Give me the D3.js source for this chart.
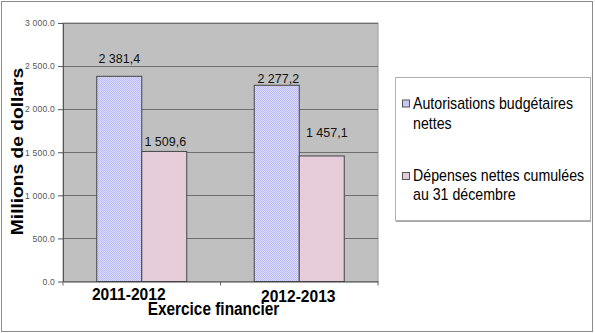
<!DOCTYPE html>
<html>
<head>
<meta charset="utf-8">
<script src="https://cdn.jsdelivr.net/npm/d3@7"></script>
<style>
  html, body { margin: 0; padding: 0; background: #fff; }
  svg { display: block; font-family: "Liberation Sans", Arial, sans-serif; }
</style>
</head>
<body>
<svg id="chart" width="595" height="333"></svg>
<script>
// Exercices financiers et séries
const categories = ["2011-2012", "2012-2013"];
const autorisations = [2381.4, 2277.2];
const depenses = [1509.6, 1457.1];
const yTicks = [0, 500, 1000, 1500, 2000, 2500, 3000];
const legendLines = [["Autorisations budgétaires", "nettes"], ["Dépenses nettes cumulées", "au 31 décembre"]];

const svg = d3.select("#chart");
const font = "'Liberation Sans', Arial, sans-serif";

// Palette
const fills = ["url(#dither)", "#e6cbd9"];
const legendFills = ["#c8c8f6", "#e6cbd9"];

const defs = svg.append("defs");
const pat = defs.append("pattern").attr("id", "dither")
  .attr("patternUnits", "userSpaceOnUse").attr("width", 2).attr("height", 2);
pat.append("rect").attr("width", 2).attr("height", 2).attr("fill", "#dadaff");
pat.append("rect").attr("x", 0).attr("y", 0).attr("width", 1).attr("height", 1).attr("fill", "#bdbdf4");
pat.append("rect").attr("x", 1).attr("y", 1).attr("width", 1).attr("height", 1).attr("fill", "#bdbdf4");

// Outer frame
svg.append("rect").attr("x", 1.5).attr("y", 1.5).attr("width", 591).attr("height", 330)
  .attr("fill", "#fff").attr("stroke", "#8c8c8c").attr("stroke-width", 1);

// Plot area
const plot = { left: 63, right: 378, top: 23, bottom: 281.5 };
const y = d3.scaleLinear().domain([0, 3000]).range([plot.bottom, plot.top]);
const x0 = d3.scaleBand().domain(categories).range([plot.left, plot.right]).paddingInner(0).paddingOuter(0);
const x1 = d3.scaleBand().domain([0, 1]).range([0, x0.bandwidth()]).paddingInner(0).paddingOuter(0.75);

svg.append("rect").attr("x", plot.left).attr("y", plot.top)
  .attr("width", plot.right - plot.left).attr("height", plot.bottom - plot.top)
  .attr("fill", "#c0c0c0").attr("stroke", "#9a9a9a").attr("stroke-width", 1);

// Gridlines
svg.append("g").selectAll("line").data(yTicks.filter(d => d > 0)).join("line")
  .attr("x1", plot.left).attr("x2", plot.right)
  .attr("y1", d => Math.round(y(d)) + 0.5).attr("y2", d => Math.round(y(d)) + 0.5)
  .attr("stroke", "#6e6e6e").attr("stroke-width", 1);

// Y axis
const fmtAxis = d3.formatLocale({ decimal: ".", thousands: " ", grouping: [3], currency: ["", ""] }).format(",.1f");
const yAxis = svg.append("g").attr("transform", `translate(${plot.left},0)`)
  .call(d3.axisLeft(y).tickValues(yTicks).tickFormat(fmtAxis).tickSizeInner(5).tickSizeOuter(0).tickPadding(3));
yAxis.select(".domain").attr("stroke", "#555");
yAxis.selectAll(".tick line").attr("stroke", "#555");
yAxis.selectAll(".tick text").attr("font-family", font).attr("font-size", 8.6)
  .attr("fill", "#555").attr("letter-spacing", 0.2);

// Bars
const series = [autorisations, depenses];
const barData = [];
categories.forEach((c, ci) => series.forEach((s, si) => barData.push({ c, ci, si, v: s[ci] })));

svg.append("g").selectAll("rect").data(barData).join("rect")
  .attr("x", d => x0(d.c) + x1(d.si))
  .attr("y", d => y(d.v))
  .attr("width", x1.bandwidth())
  .attr("height", d => y(0) - y(d.v))
  .attr("fill", d => fills[d.si])
  .attr("stroke", "#454545").attr("stroke-width", 1);

// X axis baseline and ticks
const xAxis = svg.append("g").attr("transform", `translate(0,${plot.bottom})`)
  .call(d3.axisBottom(x0).tickSize(0).tickFormat(""));
xAxis.select(".domain").attr("stroke", "#444");
svg.append("g").selectAll("line").data([plot.left, x0(categories[1]), plot.right]).join("line")
  .attr("x1", d => d).attr("x2", d => d)
  .attr("y1", plot.bottom).attr("y2", plot.bottom + 4)
  .attr("stroke", "#666");

// Category labels
const catNudge = [[-13, 299.5], [-1, 301.5]];
svg.append("g").selectAll("text").data(categories).join("text")
  .attr("transform", (d, i) => `translate(${x0(d) + x0.bandwidth() / 2 + catNudge[i][0]},${catNudge[i][1]}) scale(1,1.08)`)
  .attr("text-anchor", "middle").attr("font-family", font).attr("font-weight", "bold")
  .attr("font-size", 15.6).attr("fill", "#000").text(d => d);

// Value labels
const fmtVal = d3.formatLocale({ decimal: ",", thousands: " ", grouping: [3], currency: ["", ""] }).format(",.1f");
const labelNudge = [[0, -13], [1, -5], [1.5, -2], [5, -19]];
svg.append("g").selectAll("text").data(barData).join("text")
  .attr("x", (d, i) => x0(d.c) + x1(d.si) + x1.bandwidth() / 2 + labelNudge[i][0])
  .attr("y", (d, i) => y(d.v) + labelNudge[i][1])
  .attr("text-anchor", "middle").attr("font-family", font).attr("font-size", 12.5)
  .attr("fill", "#111").text(d => fmtVal(d.v));

// Axis titles
svg.append("text")
  .attr("transform", "translate(213.5,315) scale(1,1.15)")
  .attr("text-anchor", "middle").attr("font-family", font).attr("font-weight", "bold")
  .attr("font-size", 15.4).attr("fill", "#000").text("Exercice financier");

svg.append("text")
  .attr("transform", "translate(22.5,151.5) scale(1,1.2) rotate(-90)")
  .attr("text-anchor", "middle").attr("font-family", font).attr("font-weight", "bold")
  .attr("font-size", 16).attr("fill", "#000").text("Millions de dollars");

// Legend
const lg = svg.append("g");
lg.append("rect").attr("x", 396).attr("y", 79).attr("width", 195).attr("height", 143).attr("fill", "#a8a8a8");
lg.append("rect").attr("x", 395.5).attr("y", 77.5).attr("width", 195).attr("height", 143)
  .attr("fill", "#fff").attr("stroke", "#b0b0b0").attr("stroke-width", 1);

const legendRows = [
  { sw: 100, lines: [109, 128.5] },
  { sw: 172.5, lines: [181, 200] }
];
legendRows.forEach((row, i) => {
  lg.append("rect").attr("x", 402.5).attr("y", row.sw).attr("width", 7).attr("height", 7)
    .attr("fill", legendFills[i]).attr("stroke", "#555").attr("stroke-width", 1);
  legendLines[i].forEach((t, j) => {
    lg.append("text")
      .attr("transform", `translate(413,${row.lines[j]}) scale(1,1.12)`)
      .attr("font-family", font).attr("font-size", 14.2).attr("fill", "#000").text(t);
  });
});
</script>
</body>
</html>
